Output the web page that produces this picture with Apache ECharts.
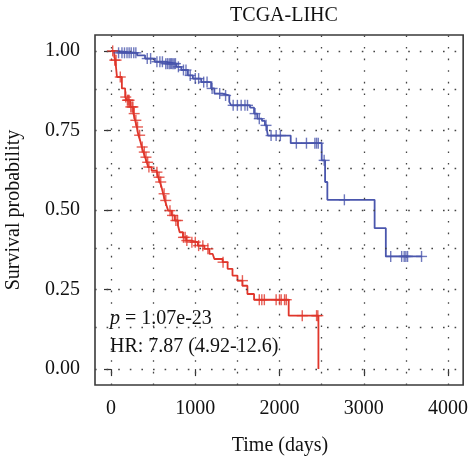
<!DOCTYPE html>
<html>
<head>
<meta charset="utf-8">
<script src="https://cdn.jsdelivr.net/npm/echarts@6/dist/echarts.min.js"></script>
<style>
html,body{margin:0;padding:0;background:#fff;}
#c{width:471px;height:462px;}
</style>
</head>
<body>
<div id="c"></div>
<script>
// ---- data ----
const xTicks = [0, 1000, 2000, 3000, 4000];
const xMinor = [500, 1500, 2500, 3500];
const yTicks = [0, 0.25, 0.5, 0.75, 1.0];
const yMinor = [0.125, 0.375, 0.625, 0.875];

// Low risk (blue) KM steps
const blueTimes = [0, 50, 310, 404, 520, 640, 776, 835, 913, 972, 1071, 1188, 1227, 1320, 1404, 1427, 1650, 1698, 1736, 1792, 1827, 1851, 1862, 2133, 2501, 2541, 2568, 3129, 3262, 3686];
const blueSurv  = [1.0, 0.994, 0.986, 0.976, 0.966, 0.960, 0.950, 0.940, 0.923, 0.913, 0.902, 0.882, 0.866, 0.860, 0.840, 0.829, 0.822, 0.803, 0.787, 0.780, 0.766, 0.750, 0.734, 0.710, 0.656, 0.588, 0.532, 0.443, 0.354, 0.354];
const blueCensT = [90, 130, 160, 190, 215, 240, 270, 295, 430, 470, 545, 580, 610, 650, 670, 690, 705, 720, 735, 750, 765, 800, 860, 890, 940, 1000, 1040, 1100, 1140, 1200, 1290, 1360, 1450, 1500, 1545, 1590, 1620, 1710, 1760, 1840, 1900, 1960, 2010, 2200, 2320, 2420, 2440, 2460, 2530, 2770, 3320, 3450, 3480, 3500, 3520, 3686];
const blueCensS = [0.994, 0.994, 0.994, 0.994, 0.994, 0.994, 0.994, 0.994, 0.976, 0.976, 0.966, 0.966, 0.966, 0.960, 0.960, 0.960, 0.960, 0.960, 0.960, 0.960, 0.960, 0.950, 0.940, 0.940, 0.923, 0.913, 0.913, 0.902, 0.902, 0.882, 0.866, 0.860, 0.829, 0.829, 0.829, 0.829, 0.829, 0.803, 0.787, 0.766, 0.734, 0.734, 0.734, 0.710, 0.710, 0.710, 0.710, 0.710, 0.656, 0.532, 0.354, 0.354, 0.354, 0.354, 0.354, 0.354];

// High risk (red) KM steps
const redTimes = [0, 39, 51, 71, 129, 168, 188, 227, 266, 286, 306, 325, 345, 365, 384, 404, 424, 442, 482, 541, 560, 580, 600, 619, 639, 659, 678, 718, 756, 795, 815, 854, 894, 953, 1031, 1109, 1168, 1207, 1227, 1325, 1384, 1442, 1501, 1560, 1619, 1698, 2109, 2462];
const redSurv  = [1.0, 0.981, 0.971, 0.918, 0.882, 0.855, 0.845, 0.824, 0.803, 0.782, 0.761, 0.735, 0.719, 0.698, 0.682, 0.666, 0.650, 0.635, 0.624, 0.619, 0.603, 0.588, 0.572, 0.551, 0.530, 0.514, 0.498, 0.483, 0.467, 0.451, 0.430, 0.414, 0.404, 0.399, 0.388, 0.378, 0.362, 0.357, 0.346, 0.336, 0.315, 0.294, 0.278, 0.262, 0.236, 0.218, 0.168, 0.0];
const redCensT = [20, 45, 60, 110, 175, 195, 205, 215, 235, 250, 260, 275, 295, 315, 340, 370, 395, 415, 435, 450, 545, 570, 590, 630, 650, 700, 730, 770, 790, 860, 880, 900, 960, 1000, 1040, 1090, 1150, 1330, 1560, 1760, 1790, 1820, 1960, 2000, 2020, 2060, 2080, 2270, 2440, 2455];
const redCensS = [1.0, 0.971, 0.971, 0.918, 0.855, 0.845, 0.845, 0.845, 0.824, 0.824, 0.824, 0.803, 0.782, 0.761, 0.735, 0.698, 0.682, 0.666, 0.650, 0.635, 0.619, 0.603, 0.588, 0.551, 0.530, 0.498, 0.483, 0.467, 0.467, 0.414, 0.414, 0.404, 0.399, 0.399, 0.388, 0.388, 0.378, 0.336, 0.278, 0.218, 0.218, 0.218, 0.218, 0.218, 0.218, 0.218, 0.218, 0.168, 0.168, 0.168];

const titleText = 'TCGA-LIHC';
const xTitle = 'Time (days)';
const yTitle = 'Survival probability';
const pText = '1.07e-23';
const hrText = 'HR: 7.87 (4.92-12.6)';

// ---- build ----
const BLUE = '#4a56ad';
const RED = '#e0362b';
const FONT = "'Liberation Serif', 'Times New Roman', serif";
const zip = (a, b) => a.map((v, i) => [v, b[i]]);

function crossSeries(t, s, color) {
  const d = zip(t, s);
  return [
    {type: 'scatter', data: d, symbol: 'rect', symbolSize: [1.4, 11], itemStyle: {color: color}, silent: true, z: 5},
    {type: 'scatter', data: d, symbol: 'rect', symbolSize: [11, 1.4], itemStyle: {color: color}, silent: true, z: 5}
  ];
}

const gridLineStyle = {color: '#444', width: 1.3, type: [1.6, 10]};
const chart = echarts.init(document.getElementById('c'), null, {renderer: 'canvas'});
chart.setOption({
  animation: false,
  backgroundColor: '#fff',
  grid: {left: 95, right: 5, top: 35, bottom: 77, show: true, borderColor: '#3a3a3a', borderWidth: 1.6, backgroundColor: 'transparent'},
  xAxis: {
    type: 'value', min: -190, max: 4180,
    axisLine: {show: false},
    splitLine: {show: false},
    axisTick: {show: true, length: 7, customValues: xTicks, lineStyle: {color: '#333', width: 1.2}},
    axisLabel: {customValues: xTicks, margin: 14, color: '#111', fontSize: 20, fontFamily: FONT,
      formatter: v => String(Math.round(v))}
  },
  yAxis: {
    type: 'value', min: -0.05, max: 1.05,
    axisLine: {show: false},
    splitLine: {show: false},
    axisTick: {show: true, length: 7, customValues: yTicks, lineStyle: {color: '#333', width: 1.2}},
    axisLabel: {customValues: yTicks, margin: 15, color: '#111', fontSize: 20, fontFamily: FONT,
      formatter: v => Number(v).toFixed(2)}
  },
  series: [
    {type: 'line', data: [], z: 1, silent: true,
      markLine: {symbol: 'none', silent: true, label: {show: false}, animation: false,
        lineStyle: gridLineStyle,
        data: [].concat(
          xTicks.concat(xMinor).map(v => ({xAxis: v})),
          yTicks.concat(yMinor).map(v => ({yAxis: v}))
        )}},
    {type: 'line', step: 'end', data: zip(blueTimes, blueSurv), showSymbol: false, symbol: 'none',
      lineStyle: {color: BLUE, width: 1.8}, z: 3, silent: true},
    {type: 'line', step: 'end', data: zip(redTimes, redSurv), showSymbol: false, symbol: 'none',
      lineStyle: {color: RED, width: 1.8}, z: 4, silent: true},
    ...crossSeries(blueCensT, blueCensS, BLUE),
    ...crossSeries(redCensT, redCensS, RED)
  ],
  graphic: [
    {type: 'text', x: 284, y: 16, style: {text: titleText, font: '20px ' + FONT, fill: '#111', textAlign: 'center', textVerticalAlign: 'middle'}},
    {type: 'text', x: 280, y: 446, style: {text: xTitle, font: '20px ' + FONT, fill: '#111', textAlign: 'center', textVerticalAlign: 'middle'}},
    {type: 'text', x: 14, y: 210, rotation: Math.PI / 2, style: {text: yTitle, font: '20px ' + FONT, fill: '#111', textAlign: 'center', textVerticalAlign: 'middle'}},
    {type: 'text', x: 110, y: 318.5, z: 10, style: {
      text: '{i|p} = ' + pText,
      font: '20px ' + FONT, fill: '#111', textAlign: 'left', textVerticalAlign: 'middle',
      rich: {i: {fontStyle: 'italic', fontFamily: FONT, fontSize: 20, fill: '#111'}}}},
    {type: 'text', x: 110, y: 347, z: 10, style: {text: hrText, font: '20px ' + FONT, fill: '#111', textAlign: 'left', textVerticalAlign: 'middle'}}
  ]
});
</script>
</body>
</html>
